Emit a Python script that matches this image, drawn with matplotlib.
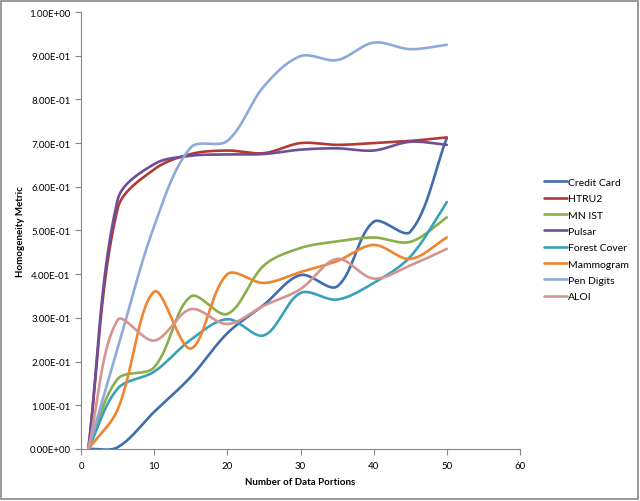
import numpy as np
import matplotlib.pyplot as plt
from matplotlib.patches import Rectangle

plt.rcParams['font.family'] = ['Lato', 'DejaVu Sans']

portions = [1, 5, 10, 15, 20, 25, 30, 35, 40, 45, 50]

credit_card = [0, 0.004, 0.085, 0.165, 0.265, 0.33, 0.398, 0.372, 0.52, 0.497, 0.712]
htru2 = [0, 0.55, 0.64, 0.675, 0.683, 0.677, 0.70, 0.696, 0.70, 0.705, 0.713]
mnist = [0, 0.16, 0.187, 0.349, 0.309, 0.42, 0.46, 0.475, 0.484, 0.474, 0.53]
pulsar = [0, 0.57, 0.652, 0.671, 0.674, 0.675, 0.685, 0.688, 0.683, 0.703, 0.696]
forest_cover = [0, 0.138, 0.177, 0.25, 0.297, 0.26, 0.357, 0.342, 0.38, 0.44, 0.565]
mammogram = [0, 0.09, 0.36, 0.23, 0.40, 0.38, 0.405, 0.43, 0.467, 0.435, 0.484]
pen_digits = [0, 0.23, 0.51, 0.69, 0.705, 0.83, 0.899, 0.89, 0.93, 0.915, 0.925]
aloi = [0, 0.295, 0.248, 0.32, 0.286, 0.328, 0.366, 0.435, 0.39, 0.42, 0.458]

names = ['Credit Card', 'HTRU2', 'MN IST', 'Pulsar', 'Forest Cover',
         'Mammogram', 'Pen Digits', 'ALOI']
series = [credit_card, htru2, mnist, pulsar, forest_cover, mammogram,
          pen_digits, aloi]
colors = ['#3F6DAE', '#B03A37', '#8AAF4A', '#6E4E96', '#3AA1B8',
          '#EE8530', '#8EAADA', '#D69491']

# pixel size of one data unit, used to scale the smoothing like excel does
SX, SY = 7.32, 437.0


def smooth(x, y, n=40):
    # excel style smoothed line: bezier through the points, tangents
    # scaled by the neighbouring segment lengths
    p = np.column_stack([np.array(x) * SX, np.array(y) * SY]).astype(float)
    m = len(p)
    tang = np.zeros_like(p)
    for i in range(m):
        tang[i] = p[min(i + 1, m - 1)] - p[max(i - 1, 0)]
    out = []
    for i in range(m - 1):
        p1, p2 = p[i], p[i + 1]
        d = np.hypot(*(p2 - p1))
        d_prev = np.hypot(*(p1 - p[i - 1])) if i > 0 else d
        d_next = np.hypot(*(p[i + 2] - p2)) if i + 2 < m else d
        k1 = d / (d_prev + d) / 3 if i > 0 else 1.0 / 3
        k2 = d / (d + d_next) / 3 if i + 2 < m else 1.0 / 3
        c1 = p1 + tang[i] * k1
        c2 = p2 - tang[i + 1] * k2
        t = np.linspace(0, 1, n)[:, None]
        seg = ((1 - t) ** 3 * p1 + 3 * (1 - t) ** 2 * t * c1
               + 3 * (1 - t) * t ** 2 * c2 + t ** 3 * p2)
        out.append(seg if i == 0 else seg[1:])
    out = np.vstack(out)
    return out[:, 0] / SX, out[:, 1] / SY


fig = plt.figure(figsize=(6.4, 5.02), dpi=100)
ax = fig.add_axes([0.1266, 0.1036, 0.6859, 0.8705])

for name, vals, c in zip(names, series, colors):
    xs, ys = smooth(portions, vals)
    ax.plot(xs, ys, color=c, lw=1.9, label=name, solid_capstyle='round')

ax.set_xlim(0, 60)
ax.set_ylim(0, 1.0)
ax.set_xticks(range(0, 61, 10))
yt = np.arange(0, 1.01, 0.1)
ax.set_yticks(yt)
ax.set_yticklabels([f'{v:.2E}' for v in yt])

for s in ['top', 'right']:
    ax.spines[s].set_visible(False)
for s in ['left', 'bottom']:
    ax.spines[s].set_color('#868686')
ax.tick_params(colors='#868686', labelcolor='black', labelsize=7, length=4)
ax.tick_params(axis='x', pad=5)

ax.set_xlabel('Number of Data Portions', fontsize=7, fontweight='bold', labelpad=5)
ax.set_ylabel('Homogeneity Metric', fontsize=7, fontweight='bold', labelpad=3)

fig.legend(loc='upper left', bbox_to_anchor=(0.836, 0.663), frameon=False,
           fontsize=7.5, handlelength=2.2, handletextpad=0.1,
           labelspacing=0.68)

fig.patches.append(Rectangle((0.002, 0.003), 0.995, 0.994, transform=fig.transFigure,
                             fill=False, edgecolor='#888888', lw=1.2))

fig.savefig('out.png', dpi=100)
